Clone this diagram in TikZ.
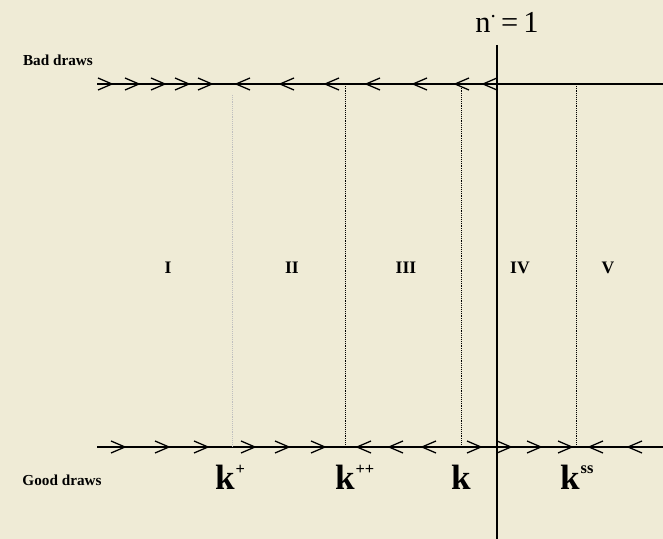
\documentclass[tikz,border=0pt]{standalone}
\usepackage{fontspec}
\setmainfont{Liberation Serif}
\usetikzlibrary{positioning}
\definecolor{paper}{RGB}{239,235,214}

\begin{document}
\begin{tikzpicture}[x=0.03cm, y=-0.03cm,
    axis/.style={line width=1.3pt},
    chev/.style={line width=1.1pt, line join=miter},
    border/.style={densely dotted, line width=0.6pt},
    region/.style={font=\fontsize{15}{17}\selectfont\bfseries},
    klabel/.style={anchor=base, font=\fontsize{30}{32}\selectfont\bfseries},
    sup/.style={font=\fontsize{14}{15}\selectfont\bfseries},
    side/.style={font=\fontsize{13}{15}\selectfont\bfseries}
]

% Paper
\fill[paper] (0,0) rectangle (663,539);
\useasboundingbox (0,0) rectangle (663,539);

% Line n = 1
\node[font=\fontsize{26}{28}\selectfont, anchor=base] (ntitle) at (507,33)
    {n\raisebox{1.1ex}{\fontsize{18}{18}\selectfont.}\,=\,1};
\coordinate (vtop) at (497,45);
\coordinate (vbot) at (497,539);
\draw[axis] (vtop) -- (vbot);

% Bad draws
\node[side] (bad) at (58,60) {Bad draws};
\coordinate (bstart) at (97,84);
\coordinate (bend) at (663,84);
\draw[axis] (bstart) -- (bend);
\foreach \t in {112,139,165,189,212}
    \draw[chev] (\t-14,78) -- (\t,84) -- (\t-14,90);
\foreach \t in {236,280,325,366,413,455,483}
    \draw[chev] (\t+14,78) -- (\t,84) -- (\t+14,90);

% Good draws
\node[side] (good) at (62,480) {Good draws};
\coordinate (gstart) at (97,447);
\coordinate (gend) at (663,447);
\draw[axis] (gstart) -- (gend);
\foreach \t in {125,169,208,255,289,325,481,511,541,572}
    \draw[chev] (\t-14,441) -- (\t,447) -- (\t-14,453);
\foreach \t in {357,389,422,589,628}
    \draw[chev] (\t+14,441) -- (\t,447) -- (\t+14,453);

% Region borders
\draw[border, gray!50] (232,95) -- (232,447);
\draw[border] (345,84) -- (345,447);
\draw[border] (461,84) -- (461,447);
\draw[border] (576,84) -- (576,447);

% Regions
\node[region] (r1) at (168,268) {I};
\node[region] (r2) at (292,268) {II};
\node[region] (r3) at (406,268) {III};
\node[region] (r4) at (520,268) {IV};
\node[region] (r5) at (608,268) {V};

% Capital stocks
\node[klabel] (kp) at (225,490) {k};
\node[sup, anchor=south west, inner sep=0pt] at ([xshift=-3pt, yshift=-11pt]kp.north east) {+};
\node[klabel] (kpp) at (345,490) {k};
\node[sup, anchor=south west, inner sep=0pt] at ([xshift=-3pt, yshift=-11pt]kpp.north east) {++};
\node[klabel] (kbar) at (461,490) {k};
\node[klabel] (kss) at (570,490) {k};
\node[sup, anchor=south west, inner sep=0pt] at ([xshift=-3pt, yshift=-11pt]kss.north east) {ss};

\end{tikzpicture}
\end{document}
